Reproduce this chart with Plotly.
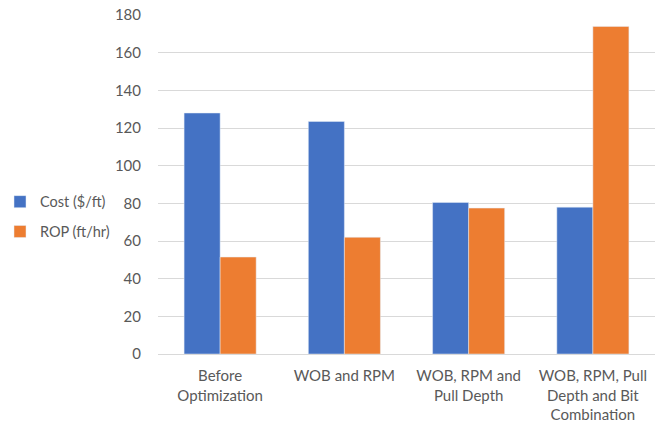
import plotly.graph_objects as go

categories = ["Before<br>Optimization", "WOB and RPM", "WOB, RPM and<br>Pull Depth",
              "WOB, RPM, Pull<br>Depth and Bit<br>Combination"]
cost = [128, 123.5, 80.5, 78]
rop = [51.5, 62, 77.5, 174]
series_names = ["Cost ($/ft)", "ROP (ft/hr)"]
y_ticks = [0, 20, 40, 60, 80, 100, 120, 140, 160, 180]

BLUE = "#4472C4"
ORANGE = "#ED7D31"
TEXT = "#595959"
GRID = "#D9D9D9"
FONT = "Lato"

fig = go.Figure()
fig.add_trace(go.Bar(x=categories, y=cost, name=series_names[0], marker_color=BLUE,
                     legendgroup="a"))
fig.add_trace(go.Bar(x=categories, y=rop, name=series_names[1], marker_color=ORANGE,
                     legendgroup="b"))

fig.update_layout(
    width=658, height=424,
    margin=dict(l=158, r=3, t=15, b=70, autoexpand=False),
    paper_bgcolor="white", plot_bgcolor="white",
    barmode="group", bargap=0.42, bargroupgap=0,
    font=dict(family=FONT, size=15, color=TEXT),
    legend=dict(xref="container", x=0, xanchor="left", y=0.405, yanchor="middle",
                font=dict(family=FONT, size=14.5, color=TEXT),
                traceorder="grouped", tracegroupgap=8,
                bgcolor="rgba(0,0,0,0)"),
    xaxis=dict(showgrid=False, showline=False, ticks="", ticklabelstandoff=11,
               tickfont=dict(size=15, color=TEXT)),
    yaxis=dict(range=[0, 180.05], tickvals=y_ticks, showgrid=True, gridcolor=GRID, gridwidth=1,
               zeroline=True, zerolinecolor=GRID, zerolinewidth=1, showline=False,
               ticks="", ticklabelstandoff=16, ticklabeloverflow="allow",
               tickfont=dict(size=15, color=TEXT)),
)

fig.write_html("out.html", config={"displayModeBar": False},
               post_script="document.body.style.margin='0';")
